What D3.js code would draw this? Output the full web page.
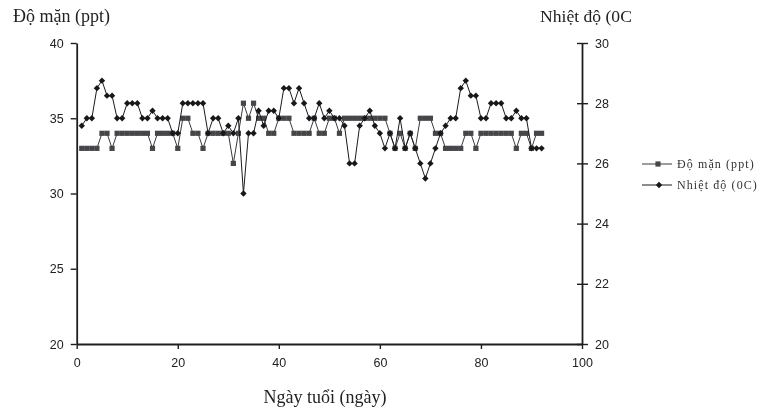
<!DOCTYPE html>
<html>
<head>
<meta charset="utf-8">
<script src="https://cdn.jsdelivr.net/npm/d3@7"></script>
<style>
  body { margin: 0; background: #fff; }
  svg { display: block; filter: blur(0.3px); }
</style>
</head>
<body>
<svg id="chart" width="761" height="409"></svg>
<script>
// Daily readings, day 1 to 92
const days = d3.range(1, 93);

const salinity = [
  33, 33, 33, 33, 34, 34, 33, 34, 34, 34,
  34, 34, 34, 34, 33, 34, 34, 34, 34, 33,
  35, 35, 34, 34, 33, 34, 34, 34, 34, 34,
  32, 34, 36, 35, 36, 35, 35, 34, 34, 35,
  35, 35, 34, 34, 34, 34, 35, 34, 34, 35,
  35, 34, 35, 35, 35, 35, 35, 35, 35, 35,
  35, 34, 33, 34, 33, 34, 33, 35, 35, 35,
  34, 34, 33, 33, 33, 33, 34, 34, 33, 34,
  34, 34, 34, 34, 34, 34, 33, 34, 34, 33,
  34, 34
];

const temperature = [
  27.25, 27.5, 27.5, 28.5, 28.75, 28.25, 28.25, 27.5, 27.5, 28,
  28, 28, 27.5, 27.5, 27.75, 27.5, 27.5, 27.5, 27, 27,
  28, 28, 28, 28, 28, 27, 27.5, 27.5, 27, 27.25,
  27, 27.5, 25, 27, 27, 27.75, 27.25, 27.75, 27.75, 27.5,
  28.5, 28.5, 28, 28.5, 28, 27.5, 27.5, 28, 27.5, 27.75,
  27.5, 27.5, 27.25, 26, 26, 27.25, 27.5, 27.75, 27.25, 27,
  26.5, 27, 26.5, 27.5, 26.5, 27, 26.5, 26, 25.5, 26,
  26.5, 27, 27.25, 27.5, 27.5, 28.5, 28.75, 28.25, 28.25, 27.5,
  27.5, 28, 28, 28, 27.5, 27.5, 27.75, 27.5, 27.5, 26.5,
  26.5, 26.5
];

const xTicks = [0, 20, 40, 60, 80, 100];
const salTicks = [20, 25, 30, 35, 40];
const tempTicks = [20, 22, 24, 26, 28, 30];

const labels = {
  salAxis: "Độ mặn (ppt)",
  tempAxis: "Nhiệt độ (0C",
  xAxis: "Ngày tuổi (ngày)",
  salSeries: "Độ mặn (ppt)",
  tempSeries: "Nhiệt độ (0C)"
};

const svg = d3.select("#chart");
const ink = "#1e1e22";

const x = d3.scaleLinear().domain([0, 100]).range([76.7, 582]);
const ySal = d3.scaleLinear().domain([20, 40]).range([344, 43]);
const yTemp = d3.scaleLinear().domain([20, 30]).range([344, 43]);

const sansFont = "'Liberation Sans', Arial, sans-serif";
const serifFont = "'Liberation Serif', 'Times New Roman', serif";

function styleAxis(g) {
  g.selectAll(".domain").attr("stroke", ink).attr("stroke-width", 1.8);
  g.selectAll(".tick line").attr("stroke", ink).attr("stroke-width", 1.4);
  g.selectAll(".tick text")
    .attr("fill", "#222")
    .style("font-family", sansFont)
    .style("font-size", "12.5px");
}

// Bottom axis
svg.append("g")
  .attr("transform", `translate(0,${ySal(20)})`)
  .call(d3.axisBottom(x).tickValues(xTicks).tickSize(5).tickSizeOuter(0).tickPadding(9))
  .call(styleAxis);

// Left axis: salinity
svg.append("g")
  .attr("transform", `translate(${x(0)},0)`)
  .call(d3.axisLeft(ySal).tickValues(salTicks).tickSize(6).tickSizeOuter(0).tickPadding(7))
  .call(styleAxis);

// Right axis: temperature, ticks cross the line
const rightAxis = svg.append("g")
  .attr("transform", `translate(${x(100)},0)`)
  .call(d3.axisRight(yTemp).tickValues(tempTicks).tickSize(6).tickSizeOuter(0).tickPadding(7))
  .call(styleAxis);
rightAxis.selectAll(".tick line").attr("x1", -5).attr("x2", 6);

// Series
const salLine = d3.line().x((d, i) => x(days[i])).y(d => ySal(d));
const tempLine = d3.line().x((d, i) => x(days[i])).y(d => yTemp(d));

svg.append("path")
  .datum(salinity)
  .attr("fill", "none")
  .attr("stroke", "#3a3a3e")
  .attr("stroke-width", 1)
  .attr("d", salLine);

svg.append("g")
  .selectAll("rect")
  .data(salinity)
  .join("rect")
  .attr("x", (d, i) => x(days[i]) - 2.6)
  .attr("y", d => ySal(d) - 2.6)
  .attr("width", 5.2)
  .attr("height", 5.2)
  .attr("fill", "#46464a");

svg.append("path")
  .datum(temperature)
  .attr("fill", "none")
  .attr("stroke", "#1a1a1e")
  .attr("stroke-width", 1)
  .attr("d", tempLine);

const diamond = d3.symbol().type(d3.symbolDiamond2).size(26);
svg.append("g")
  .selectAll("path")
  .data(temperature)
  .join("path")
  .attr("transform", (d, i) => `translate(${x(days[i])},${yTemp(d)})`)
  .attr("d", diamond)
  .attr("fill", "#18181c");

// Axis titles
svg.append("text")
  .attr("x", 13).attr("y", 22)
  .style("font-family", serifFont).style("font-size", "18px")
  .attr("fill", "#222")
  .text(labels.salAxis);

svg.append("text")
  .attr("x", 540).attr("y", 22)
  .style("font-family", serifFont).style("font-size", "17.6px")
  .attr("fill", "#222")
  .text(labels.tempAxis);

svg.append("text")
  .attr("x", 325).attr("y", 403)
  .attr("text-anchor", "middle")
  .style("font-family", serifFont).style("font-size", "18px")
  .attr("fill", "#222")
  .text(labels.xAxis);

// Legend
const legend = svg.append("g").attr("transform", "translate(642,0)");
const legendItems = [
  { y: 164, label: labels.salSeries, kind: "square" },
  { y: 185, label: labels.tempSeries, kind: "diamond" }
];
legendItems.forEach(item => {
  legend.append("line")
    .attr("x1", 0).attr("x2", 30)
    .attr("y1", item.y).attr("y2", item.y)
    .attr("stroke", item.kind === "square" ? "#3a3a3e" : "#1a1a1e")
    .attr("stroke-width", 1);
  if (item.kind === "square") {
    legend.append("rect")
      .attr("x", 16 - 2.6).attr("y", item.y - 2.6)
      .attr("width", 5.2).attr("height", 5.2)
      .attr("fill", "#46464a");
  } else {
    legend.append("path")
      .attr("transform", `translate(17,${item.y})`)
      .attr("d", diamond)
      .attr("fill", "#18181c");
  }
  legend.append("text")
    .attr("x", 35).attr("y", item.y + 4)
    .style("font-family", serifFont).style("font-size", "12px")
    .style("letter-spacing", "1.1px")
    .attr("fill", "#333")
    .text(item.label);
});
</script>
</body>
</html>
